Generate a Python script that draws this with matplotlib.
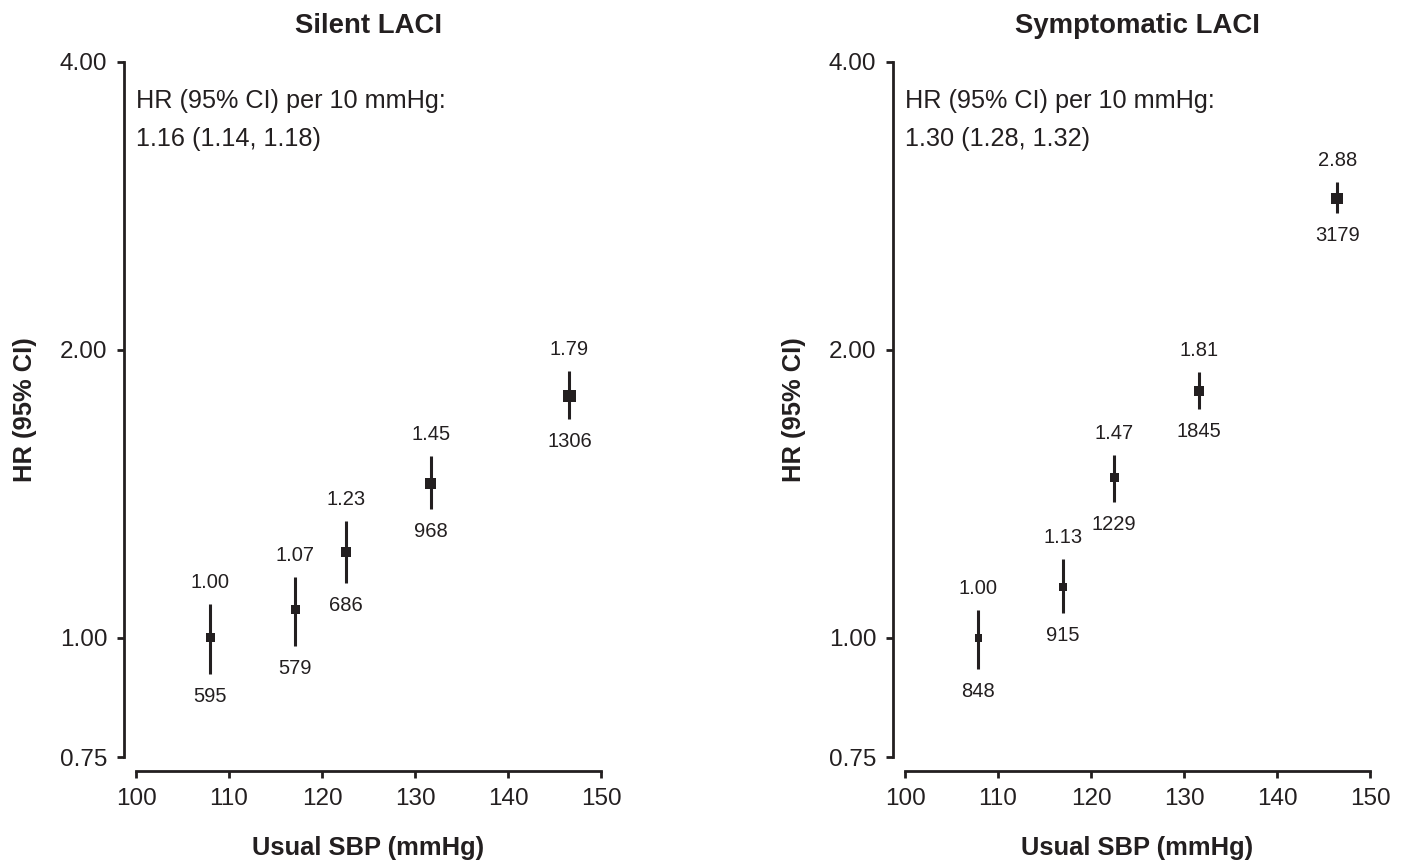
import matplotlib
matplotlib.use("Agg")
import matplotlib.pyplot as plt
from matplotlib.ticker import FixedLocator, NullLocator, FixedFormatter
import numpy as np

plt.rcParams['font.family'] = ['Liberation Sans', 'DejaVu Sans']

# ---------------- data ----------------
titles = ["Silent LACI", "Symptomatic LACI"]
trend_texts = ["1.16 (1.14, 1.18)", "1.30 (1.28, 1.32)"]

sbp_silent = [108.0, 117.1, 122.6, 131.7, 146.6]
hr_silent = [1.00, 1.07, 1.23, 1.45, 1.79]
lo_silent = [0.917, 0.981, 1.141, 1.364, 1.694]
hi_silent = [1.085, 1.158, 1.325, 1.550, 1.901]
n_silent = [595, 579, 686, 968, 1306]

sbp_sympt = [107.9, 117.0, 122.5, 131.6, 146.5]
hr_sympt = [1.00, 1.13, 1.47, 1.81, 2.88]
lo_sympt = [0.928, 1.062, 1.387, 1.735, 2.781]
hi_sympt = [1.070, 1.209, 1.553, 1.897, 2.996]
n_sympt = [848, 915, 1229, 1845, 3179]

y_ticks = [0.75, 1.00, 2.00, 4.00]
y_tick_labels = ["0.75", "1.00", "2.00", "4.00"]
x_ticks = [100, 110, 120, 130, 140, 150]

# ---------------- style ----------------
ink = '#231f20'
marker_pt_silent = [6.5, 6.5, 7.2, 7.9, 8.9]
marker_pt_sympt = [5.5, 6.0, 6.5, 7.2, 8.6]

W, H = 1407, 863
fig = plt.figure(figsize=(W / 100, H / 100), dpi=100)
top_px, bot_px = 62, 757.5
ax_h = (bot_px - top_px) / H
ax_b = 1 - bot_px / H
axL = fig.add_axes([136 / W, ax_b, 465 / W, ax_h])
axR = fig.add_axes([905 / W, ax_b, 465 / W, ax_h])

panels = [
    (axL, sbp_silent, hr_silent, lo_silent, hi_silent, n_silent, marker_pt_silent),
    (axR, sbp_sympt, hr_sympt, lo_sympt, hi_sympt, n_sympt, marker_pt_sympt),
]

for i, (ax, x, hr, lo, hi, n, msz) in enumerate(panels):
    x = np.array(x); hr = np.array(hr); lo = np.array(lo); hi = np.array(hi)
    ax.set_yscale('log')
    ax.set_xlim(100, 150)
    ax.set_ylim(0.75, 4.0)

    ax.errorbar(x, hr, yerr=[hr - lo, hi - hr], fmt='none', ecolor=ink,
                elinewidth=2.2, capsize=0, zorder=2)
    ax.scatter(x, hr, s=np.array(msz) ** 2, marker='s', color=ink,
               linewidths=0, zorder=3)

    for xi, h, l, u, ni in zip(x, hr, lo, hi, n):
        ax.annotate(f"{h:.2f}", xy=(xi, u), xytext=(0, 8.6),
                    textcoords='offset points', ha='center', va='bottom',
                    fontsize=14.5, color=ink)
        ax.annotate(f"{ni}", xy=(xi, l), xytext=(0, -9.4),
                    textcoords='offset points', ha='center', va='top',
                    fontsize=14.5, color=ink)

    ax.text(0.0, 0.961, "HR (95% CI) per 10 mmHg:", transform=ax.transAxes,
            ha='left', va='top', fontsize=18.2, color=ink)
    ax.text(0.0, 0.907, trend_texts[i], transform=ax.transAxes,
            ha='left', va='top', fontsize=18.2, color=ink)

    for s in ['top', 'right']:
        ax.spines[s].set_visible(False)
    ax.spines['left'].set_position(('outward', 8.6))
    ax.spines['bottom'].set_position(('outward', 10))
    for s in ['left', 'bottom']:
        ax.spines[s].set_linewidth(2.0)
        ax.spines[s].set_color(ink)

    ax.yaxis.set_major_locator(FixedLocator(y_ticks))
    ax.yaxis.set_major_formatter(FixedFormatter(y_tick_labels))
    ax.yaxis.set_minor_locator(NullLocator())
    ax.xaxis.set_major_locator(FixedLocator(x_ticks))
    ax.xaxis.set_minor_locator(NullLocator())
    ax.tick_params(axis='both', which='major', direction='out', length=5,
                   width=2.0, color=ink, labelcolor=ink, labelsize=17.5, pad=7)

    ax.set_title(titles[i], fontsize=19.8, fontweight='bold', color=ink, pad=21)
    ax.set_xlabel("Usual SBP (mmHg)", fontsize=18.4, fontweight='bold', color=ink)
    ax.xaxis.set_label_coords(0.5, -0.1135)
    ax.set_ylabel("HR (95% CI)", fontsize=18.4, fontweight='bold', color=ink)
    ax.yaxis.set_label_coords(-0.213, 0.5)
    ax.patch.set_visible(False)

fig.savefig("out.png", dpi=100, facecolor='white')
